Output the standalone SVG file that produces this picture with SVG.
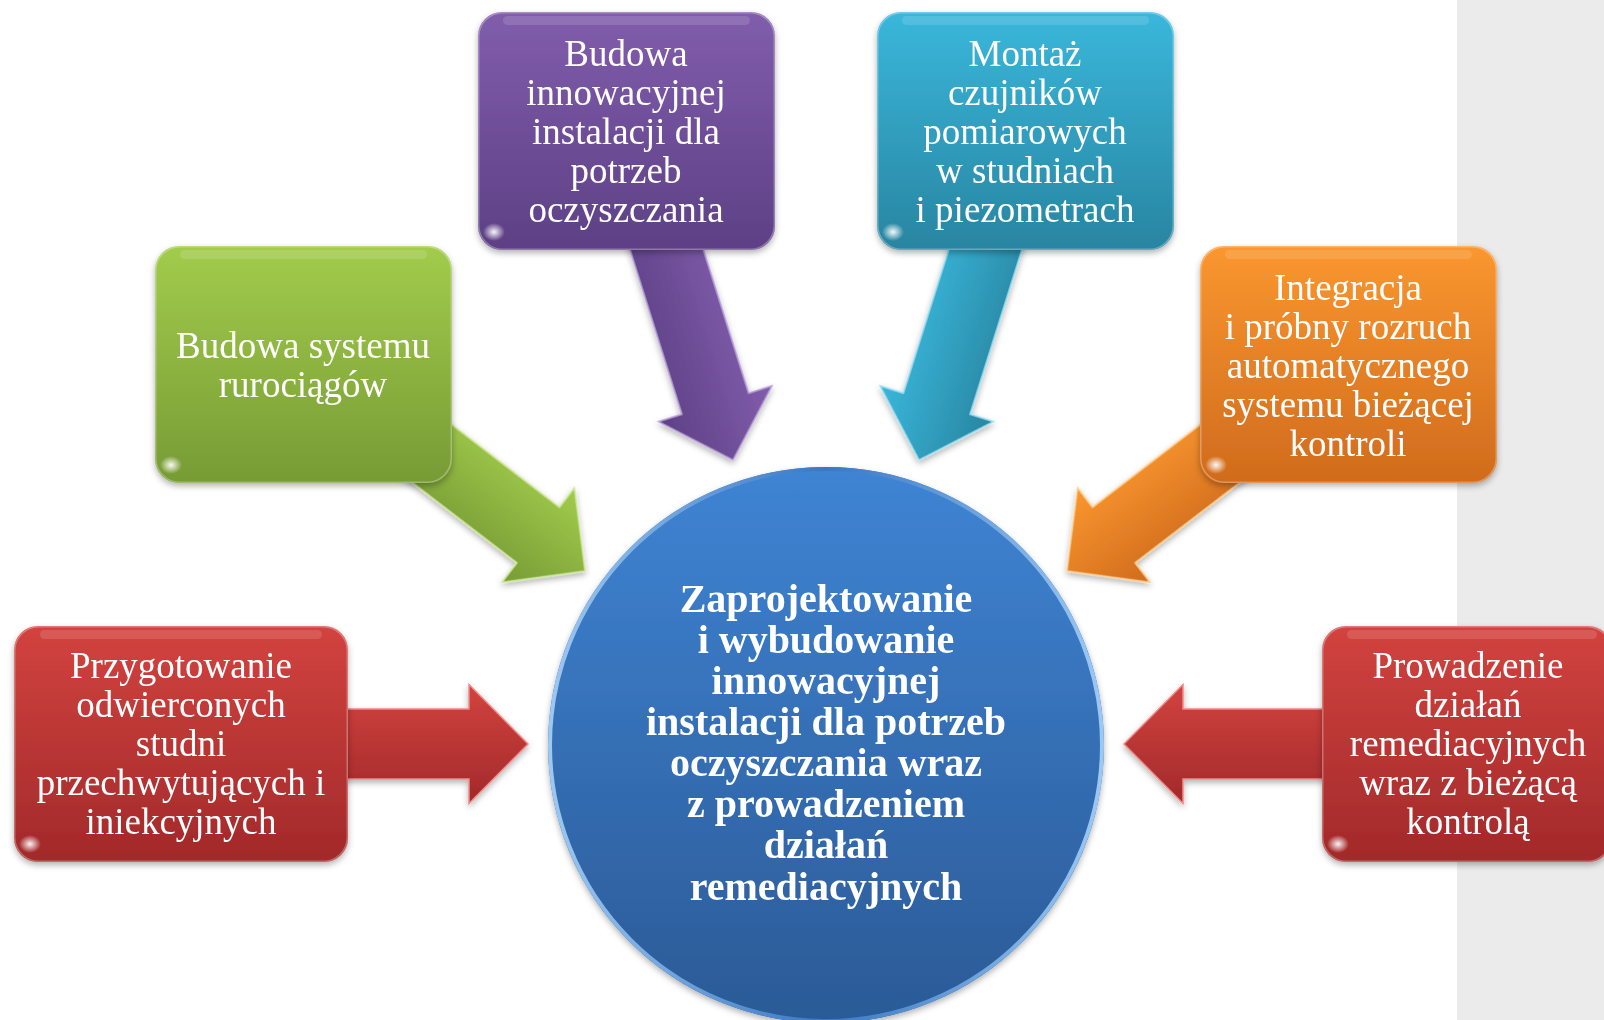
<svg xmlns="http://www.w3.org/2000/svg" width="1604" height="1020" viewBox="0 0 1604 1020">
<style>
  .t { font-family: "Liberation Serif", "Times New Roman", serif; font-size: 37px; fill: #ffffff; text-anchor: middle; }
  .tc { font-family: "Liberation Serif", "Times New Roman", serif; font-size: 40px; font-weight: bold; fill: #ffffff; text-anchor: middle; }
  .hl { fill: #ffffff; opacity: 0.13; }
  .glint { fill: url(#glint); }
  .bevel { fill: none; stroke: #ffffff; stroke-opacity: 0.3; stroke-width: 1.5; }
</style>
<defs>
  <linearGradient id="gRed" x1="0" y1="0" x2="0" y2="1"><stop offset="0" stop-color="#d2433f"/><stop offset="1" stop-color="#a2292a"/></linearGradient>
  <linearGradient id="gGreen" x1="0" y1="0" x2="0" y2="1"><stop offset="0" stop-color="#a2cc4c"/><stop offset="1" stop-color="#779b35"/></linearGradient>
  <linearGradient id="gPurple" x1="0" y1="0" x2="0" y2="1"><stop offset="0" stop-color="#815dac"/><stop offset="1" stop-color="#5d4085"/></linearGradient>
  <linearGradient id="gTeal" x1="0" y1="0" x2="0" y2="1"><stop offset="0" stop-color="#3ab7db"/><stop offset="1" stop-color="#2885a1"/></linearGradient>
  <linearGradient id="gOrange" x1="0" y1="0" x2="0" y2="1"><stop offset="0" stop-color="#fa972f"/><stop offset="1" stop-color="#d06b1d"/></linearGradient>
  <linearGradient id="gBlue" x1="0" y1="0" x2="0" y2="1"><stop offset="0" stop-color="#3f84d4"/><stop offset="1" stop-color="#2b5a96"/></linearGradient>
  <linearGradient id="gRim" x1="0" y1="0" x2="1" y2="0"><stop offset="0" stop-color="#9cc8f2"/><stop offset="0.5" stop-color="#3a78c4"/><stop offset="1" stop-color="#9cc8f2"/></linearGradient>
  <radialGradient id="glint"><stop offset="0" stop-color="#ffffff" stop-opacity="0.95"/><stop offset="1" stop-color="#ffffff" stop-opacity="0"/></radialGradient>
  <filter id="sh" x="-10%" y="-10%" width="120%" height="125%"><feDropShadow dx="0" dy="3" stdDeviation="3" flood-color="#000000" flood-opacity="0.3"/></filter>
  <path id="arrow" d="M0,0 L-59,-59.5 L-59,-35 L-250,-35 L-250,35 L-59,35 L-59,59.5 Z"/>
</defs>

<rect x="0" y="0" width="1604" height="1020" fill="#ffffff"/>
<rect x="1457" y="0" width="147" height="1020" fill="#ebebeb"/>

<g id="connectors" filter="url(#sh)">
  <use href="#arrow" transform="translate(528,744)" fill="url(#gRed)" stroke="#f08a86" stroke-width="1.5"/>
  <use href="#arrow" transform="translate(1124,744) scale(-1,1)" fill="url(#gRed)" stroke="#f08a86" stroke-width="1.5"/>
  <use href="#arrow" transform="translate(585,571) rotate(37.5)" fill="url(#gGreen)" stroke="#cfe89a" stroke-width="1.5"/>
  <use href="#arrow" transform="translate(1067,571) scale(-1,1) rotate(37.5)" fill="url(#gOrange)" stroke="#ffd08f" stroke-width="1.5"/>
  <use href="#arrow" transform="translate(733,460) rotate(72.5)" fill="url(#gPurple)" stroke="#b9a2da" stroke-width="1.5"/>
  <use href="#arrow" transform="translate(919,460) scale(-1,1) rotate(72.5)" fill="url(#gTeal)" stroke="#9fe0f2" stroke-width="1.5"/>
</g>

<g id="node-center">
  <circle cx="826" cy="745" r="278" fill="url(#gBlue)" filter="url(#sh)"/>
  <circle cx="826" cy="745" r="276" fill="none" stroke="url(#gRim)" stroke-width="4"/>
  <text class="tc" x="826" y="612">Zaprojektowanie</text>
  <text class="tc" x="826" y="653"> i wybudowanie</text>
  <text class="tc" x="826" y="694">innowacyjnej</text>
  <text class="tc" x="826" y="735">instalacji dla potrzeb</text>
  <text class="tc" x="826" y="776">oczyszczania wraz</text>
  <text class="tc" x="826" y="817">z prowadzeniem</text>
  <text class="tc" x="826" y="858">działań</text>
  <text class="tc" x="826" y="900">remediacyjnych</text>
</g>

<g id="node-left-red">
  <rect x="14" y="626" width="334" height="236" rx="24" fill="url(#gRed)" filter="url(#sh)"/>
  <rect x="40" y="630" width="282" height="9" rx="4.5" class="hl"/>
  <rect x="14.75" y="626.75" width="332.5" height="234.5" rx="24" class="bevel"/>
  <ellipse cx="30" cy="844" rx="11" ry="9" class="glint"/>
  <text class="t" x="181" y="678">Przygotowanie</text>
  <text class="t" x="181" y="717">odwierconych</text>
  <text class="t" x="181" y="756">studni</text>
  <text class="t" x="181" y="795">przechwytujących i</text>
  <text class="t" x="181" y="834">iniekcyjnych</text>
</g>

<g id="node-green">
  <rect x="155" y="246" width="297" height="237" rx="24" fill="url(#gGreen)" filter="url(#sh)"/>
  <rect x="180" y="250" width="247" height="9" rx="4.5" class="hl"/>
  <rect x="155.75" y="246.75" width="295.5" height="235.5" rx="24" class="bevel"/>
  <ellipse cx="171" cy="465" rx="11" ry="9" class="glint"/>
  <text class="t" x="303" y="358">Budowa systemu</text>
  <text class="t" x="303" y="397">rurociągów</text>
</g>

<g id="node-purple">
  <rect x="478" y="12" width="297" height="238" rx="24" fill="url(#gPurple)" filter="url(#sh)"/>
  <rect x="503" y="16" width="247" height="9" rx="4.5" class="hl"/>
  <rect x="478.75" y="12.75" width="295.5" height="236.5" rx="24" class="bevel"/>
  <ellipse cx="494" cy="232" rx="11" ry="9" class="glint"/>
  <text class="t" x="626" y="66">Budowa</text>
  <text class="t" x="626" y="105">innowacyjnej</text>
  <text class="t" x="626" y="144">instalacji dla</text>
  <text class="t" x="626" y="183">potrzeb</text>
  <text class="t" x="626" y="222">oczyszczania</text>
</g>

<g id="node-teal">
  <rect x="877" y="12" width="297" height="238" rx="24" fill="url(#gTeal)" filter="url(#sh)"/>
  <rect x="902" y="16" width="247" height="9" rx="4.5" class="hl"/>
  <rect x="877.75" y="12.75" width="295.5" height="236.5" rx="24" class="bevel"/>
  <ellipse cx="893" cy="232" rx="11" ry="9" class="glint"/>
  <text class="t" x="1025" y="66">Montaż</text>
  <text class="t" x="1025" y="105">czujników</text>
  <text class="t" x="1025" y="144">pomiarowych</text>
  <text class="t" x="1025" y="183">w studniach</text>
  <text class="t" x="1025" y="222">i piezometrach</text>
</g>

<g id="node-orange">
  <rect x="1200" y="246" width="297" height="237" rx="24" fill="url(#gOrange)" filter="url(#sh)"/>
  <rect x="1225" y="250" width="247" height="9" rx="4.5" class="hl"/>
  <rect x="1200.75" y="246.75" width="295.5" height="235.5" rx="24" class="bevel"/>
  <ellipse cx="1216" cy="465" rx="11" ry="9" class="glint"/>
  <text class="t" x="1348" y="300">Integracja</text>
  <text class="t" x="1348" y="339">i próbny rozruch</text>
  <text class="t" x="1348" y="378">automatycznego</text>
  <text class="t" x="1348" y="417">systemu bieżącej</text>
  <text class="t" x="1348" y="456">kontroli</text>
</g>

<g id="node-right-red">
  <rect x="1322" y="626" width="290" height="236" rx="24" fill="url(#gRed)" filter="url(#sh)"/>
  <rect x="1347" y="630" width="250" height="9" rx="4.5" class="hl"/>
  <rect x="1322.75" y="626.75" width="288.5" height="234.5" rx="24" class="bevel"/>
  <ellipse cx="1338" cy="844" rx="11" ry="9" class="glint"/>
  <text class="t" x="1468" y="678">Prowadzenie</text>
  <text class="t" x="1468" y="717">działań</text>
  <text class="t" x="1468" y="756">remediacyjnych</text>
  <text class="t" x="1468" y="795">wraz z bieżącą</text>
  <text class="t" x="1468" y="834">kontrolą</text>
</g>
</svg>
